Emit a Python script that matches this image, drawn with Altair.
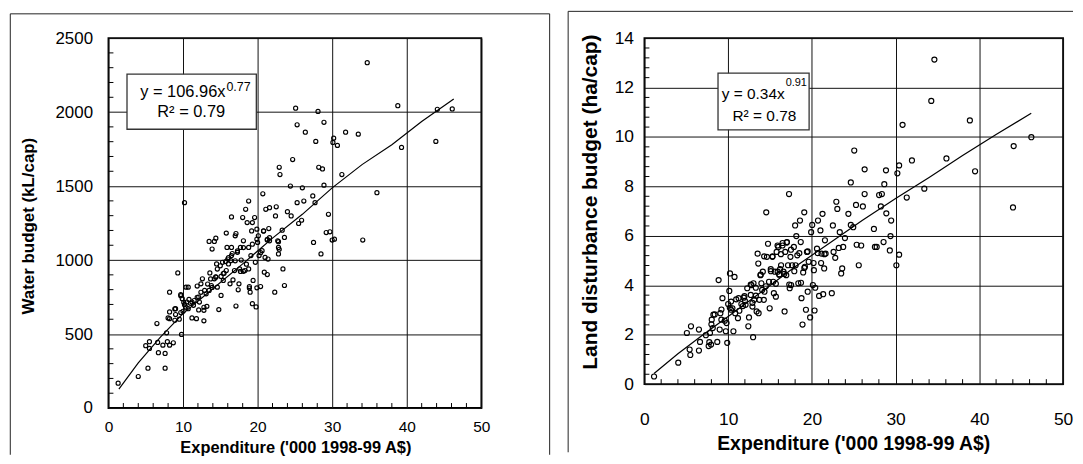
import altair as alt
import pandas as pd

# ---------------- data ----------------
water_x = [1.3, 4.0, 5.3, 7.6, 5.0, 5.5, 5.5, 6.5, 6.6, 6.7, 7.3, 7.6, 7.8, 7.9, 8.2, 8.7, 8.2, 8.0, 8.2, 8.2,
           8.9, 9.0, 9.3, 9.5, 9.7, 9.8, 9.7, 9.9, 10.2, 10.0, 10.2, 10.4, 10.7, 10.5, 10.7, 10.8, 11.2, 11.4, 11.2, 11.8,
           11.9, 12.1, 12.2, 12.4, 12.6, 12.8, 12.8, 12.9, 13.1, 13.2, 13.5, 13.5, 13.6, 13.8, 13.9, 14.2, 14.4, 14.2, 14.4, 14.5,
           14.6, 14.8, 15.1, 15.1, 15.3, 15.4, 15.5, 15.8, 15.8, 15.9, 16.0, 16.1, 16.3, 16.4, 16.5, 16.5, 16.5, 16.7, 16.9, 17.0,
           17.1, 17.1, 17.3, 17.4, 17.5, 17.6, 17.7, 17.8, 18.0, 18.1, 18.1, 18.3, 18.4, 18.6, 18.8, 18.8, 18.8, 18.9, 19.0, 19.1,
           19.2, 19.3, 19.3, 19.4, 19.6, 19.7, 19.8, 19.9, 19.9, 20.0, 20.1, 20.2, 20.4, 20.6, 20.7, 20.8, 20.9, 21.0, 21.1, 21.3,
           21.3, 21.4, 21.5, 21.6, 21.6, 22.3, 22.4, 22.5, 22.7, 22.8, 22.8, 22.9, 23.0, 23.3, 23.4, 23.6, 23.6, 24.0, 24.4, 24.5,
           24.7, 25.1, 25.3, 25.3, 25.5, 25.9, 26.0, 26.2, 26.4, 27.4, 27.5, 27.7, 27.8, 28.1, 28.2, 28.5, 28.7, 28.9, 28.9, 29.2,
           29.5, 29.7, 30.0, 30.2, 30.3, 30.1, 30.7, 31.3, 31.8, 33.5, 34.1, 34.7, 36.0, 38.8, 39.3, 43.9, 44.1, 46.1,
           8.9, 9.0, 9.7, 10.1, 10.4, 11.0, 11.5, 11.9, 12.4, 12.1, 12.8, 13.3, 13.7, 13.9, 14.4, 14.6, 15.0, 15.4, 15.7, 16.1,
           16.6, 17.0, 17.3, 17.7, 18.1, 18.5, 18.9, 19.3, 19.9, 20.4, 20.8, 21.3, 21.6, 22.8, 22.9]
water_y = [168, 213, 269, 269, 421, 448, 403, 571, 443, 374, 425, 369, 508, 448, 425, 441, 783, 609, 649, 604,
           593, 671, 913, 600, 767, 497, 645, 739, 1388, 654, 698, 817, 817, 716, 671, 734, 609, 694, 716, 604,
           824, 750, 716, 839, 873, 589, 660, 795, 772, 687, 795, 1126, 913, 828, 1074, 1126, 1148, 873, 884, 974,
           817, 665, 761, 889, 985, 862, 911, 929, 1182, 1085, 1007, 974, 839, 996, 1085, 1291, 1030, 866, 929, 1164,
           1179, 689, 1052, 799, 839, 940, 1085, 1000, 1287, 924, 1130, 929, 1343, 1253, 1399, 1085, 940, 821, 783, 1030,
           1197, 1253, 705, 862, 1287, 985, 683, 1209, 812, 1119, 1164, 1030, 821, 1063, 1448, 1197, 918, 1018, 1343, 1135,
           902, 1007, 1213, 1130, 1354, 783, 1298, 1360, 1130, 1085, 1041, 1627, 1578, 1202, 940, 828, 1153, 1327, 1500, 1298,
           1679, 2026, 1914, 1388, 1247, 1269, 1488, 1399, 1864, 1433, 1119, 1388, 1802, 2004, 1627, 1041, 1616, 1506, 1931, 1186,
           1309, 1191, 1135, 1824, 1141, 1795, 1775, 1578, 1864, 1851, 1135, 2334, 1455, 2043, 1761, 1802, 2019, 2021,
           670, 632, 759, 714, 681, 708, 726, 748, 782, 663, 681, 838, 872, 815, 887, 939, 961, 909, 990, 1017,
           1044, 995, 1062, 923, 1084, 972, 811, 1107, 1140, 1050, 1196, 1140, 1151, 1124, 1073]
water_fit_x = [1.4, 4, 7, 10, 14, 18, 22, 26, 30, 34, 38, 42, 46.3]
water_fit_y = [128, 305, 481, 638, 806, 974, 1148, 1309, 1488, 1645, 1779, 1936, 2088]

land_x = [1.15, 4.04, 5.07, 5.40, 5.56, 5.48, 6.51, 6.51, 6.64, 7.34, 7.67, 7.75, 7.83, 8.04, 8.16, 8.24, 7.96, 8.70, 8.86, 8.99,
          9.07, 9.19, 9.32, 9.60, 9.72, 9.81, 9.89, 10.0, 10.14, 10.22, 10.35, 10.35, 10.51, 10.63, 10.76, 10.84, 11.17, 11.25, 11.34, 11.58,
          11.87, 12.0, 12.08, 12.28, 12.41, 12.49, 12.70, 12.78, 12.90, 12.98, 13.03, 13.11, 13.31, 13.40, 13.52, 13.60, 13.64, 13.73, 13.85, 13.97,
          14.06, 14.14, 14.26, 14.34, 14.55, 14.63, 14.76, 14.88, 14.96, 15.09, 15.29, 15.38, 15.46, 15.58, 15.70, 15.79, 15.91, 15.99, 16.12, 16.20,
          16.32, 16.49, 16.61, 16.74, 16.82, 16.94, 17.02, 17.15, 17.27, 17.35, 17.44, 17.52, 17.64, 17.85, 18.0, 18.06, 18.14, 18.26, 18.38, 18.58,
          18.67, 18.76, 18.88, 18.96, 19.09, 19.17, 19.29, 19.41, 19.50, 19.62, 19.79, 19.91, 20.04, 20.12, 20.24, 20.32, 20.40, 20.61, 20.73, 20.86,
          21.02, 21.15, 21.27, 21.35, 21.47, 21.56, 21.64, 22.38, 22.51, 22.59, 22.79, 22.92, 23.04, 23.21, 23.33, 23.50, 23.62, 23.74, 23.95, 24.36,
          24.65, 24.65, 24.94, 25.06, 25.27, 25.35, 25.60, 25.89, 26.09, 26.30, 26.30, 27.41, 27.53, 27.74, 28.03, 28.36, 28.24, 28.56, 28.65, 28.85,
          28.89, 29.31, 29.47, 29.39, 30.09, 30.21, 30.42, 30.42, 30.83, 31.33, 31.95, 33.43, 34.26, 34.63, 36.07, 38.87, 39.49, 44.02, 44.10, 46.21,
          15.9, 16.5, 17.0, 14.3, 15.3, 16.3, 17.5, 18.5, 19.5, 20.7, 21.5, 13.9, 15.1, 16.1, 16.7, 17.9, 19.1, 20.2, 21.1, 12.7,
          13.3, 14.5, 15.7, 17.3, 18.7, 11.95, 10.96, 10.2, 9.2, 11.76, 12.9, 8.4, 8.0]
land_y = [0.31, 0.87, 2.07, 1.40, 2.34, 1.18, 2.21, 1.36, 1.71, 1.98, 1.54, 1.70, 2.07, 2.61, 2.27, 2.81, 1.60, 1.71, 4.21, 2.21,
          2.87, 2.61, 3.48, 2.57, 2.14, 2.47, 1.67, 3.24, 3.77, 4.48, 3.01, 3.34, 3.07, 2.14, 4.34, 2.87, 2.67, 3.48, 2.97, 3.24,
          3.50, 3.37, 3.21, 3.88, 2.34, 2.70, 3.61, 4.01, 3.14, 1.90, 4.08, 3.41, 3.58, 2.94, 5.28, 4.88, 2.87, 3.41, 4.41, 4.08,
          3.81, 4.55, 3.41, 3.74, 6.95, 5.15, 5.68, 4.14, 3.07, 4.65, 5.15, 4.14, 3.68, 4.55, 3.54, 5.35, 4.55, 5.55, 4.44, 4.65,
          4.81, 5.61, 4.55, 2.94, 5.35, 4.41, 5.75, 4.81, 7.69, 3.88, 5.15, 4.01, 4.81, 5.55, 6.42, 4.81, 5.99, 5.21, 4.08, 6.62,
          5.75, 3.48, 2.41, 4.52, 6.95, 4.75, 3.01, 5.35, 3.74, 4.95, 2.70, 6.15, 6.44, 4.01, 4.61, 2.98, 3.90, 5.48, 6.62, 3.57,
          6.22, 5.28, 6.89, 3.64, 4.68, 5.82, 5.28, 3.68, 6.42, 5.35, 5.11, 7.38, 7.09, 5.51, 6.15, 4.48, 4.68, 5.55, 5.91, 6.89,
          6.44, 8.16, 6.35, 9.45, 7.25, 5.64, 4.81, 5.61, 7.19, 7.69, 8.69, 6.28, 5.55, 5.55, 7.65, 7.69, 7.19, 5.75, 8.09, 8.65,
          6.91, 5.41, 6.62, 5.99, 4.81, 8.53, 8.85, 5.24, 10.49, 7.55, 9.05, 7.91, 11.46, 13.13, 9.13, 10.67, 8.61, 7.15, 9.63, 9.99,
          5.61, 5.71, 5.73, 5.17, 5.17, 5.26, 5.44, 5.30, 5.37, 5.30, 5.26, 4.43, 4.57, 4.43, 4.46, 4.57, 4.70, 4.90, 4.90, 4.03,
          3.90, 3.96, 4.06, 4.03, 4.10, 3.56, 3.43, 3.09, 3.02, 3.16, 3.29, 2.82, 2.42]
land_fit_x = [1.15, 4, 7, 10, 14, 18, 22, 26, 30, 34, 38, 42, 46.2]
land_fit_y = [0.43, 1.23, 2.0, 2.74, 3.74, 4.75, 5.68, 6.62, 7.51, 8.36, 9.25, 10.1, 10.96]

x_ticks = [0, 10, 20, 30, 40, 50]
water_y_ticks = [0, 500, 1000, 1500, 2000, 2500]
land_y_ticks = [0, 2, 4, 6, 8, 10, 12, 14]
minor_x = [v for v in range(2, 50, 2) if v % 10]
water_minor_y = [v for v in range(100, 2500, 100) if v % 500]
land_minor_y = [round(0.4 * i, 1) for i in range(1, 35) if i % 5]

x_title = "Expenditure ('000 1998-99 A$)"
water_title = "Water budget (kL/cap)"
land_title = "Land disturbance budget (ha/cap)"

water_eq = "y = 106.96x"
water_exp = "0.77"
water_r2 = "R\u00b2 = 0.79"
land_eq = "y = 0.34x"
land_exp = "0.91"
land_r2 = "R\u00b2 = 0.78"

FONT = "Liberation Sans"


def panel(px, py, fx, fy, ydom, yticks, ytitle, minor_y, W, H, ax, ay, ann, border):
    xs = alt.Scale(domain=[0, 50], nice=False, zero=False)
    ys = alt.Scale(domain=ydom, nice=False, zero=False)
    xaxis = alt.Axis(values=x_ticks, title=x_title, format="d", ticks=False, tickSize=0, domain=False, grid=True,
                     gridColor="#111", gridWidth=1, labelFontSize=ax["lfs"], labelPadding=ax["lp"],
                     labelFlush=False, labelOverlap=False, labelColor="black", labelFont=FONT,
                     titleFontSize=ax["tfs"], titleFontWeight="bold", titleColor="black", titleFont=FONT,
                     titleX=ax["tx"], titleY=ax["ty"], titleBaseline="middle", titleAlign="center")
    yaxis = alt.Axis(values=yticks, title=ytitle, format="d", ticks=False, tickSize=0, domain=False, grid=True,
                     gridColor="#111", gridWidth=1, labelFontSize=ay["lfs"], labelPadding=ay["lp"],
                     labelFlush=False, labelOverlap=False, labelColor="black", labelFont=FONT,
                     titleFontSize=ay["tfs"], titleFontWeight="bold", titleColor="black", titleFont=FONT,
                     titleX=ay["tx"], titleY=ay["ty"], titleBaseline="middle", titleAlign="center",
                     titleAngle=270)

    pts = alt.Chart(pd.DataFrame({"x": px, "y": py})).mark_point(
        shape="circle", filled=False, color="black", opacity=1, size=ann["ps"], strokeWidth=1.15
    ).encode(x=alt.X("x:Q", scale=xs, axis=xaxis), y=alt.Y("y:Q", scale=ys, axis=yaxis))

    fit = alt.Chart(pd.DataFrame({"x": fx, "y": fy})).mark_line(color="black", strokeWidth=1.2).encode(
        x=alt.X("x:Q", scale=xs), y=alt.Y("y:Q", scale=ys))

    mx = alt.Chart(pd.DataFrame({"x": minor_x})).mark_rule(color="black", strokeWidth=1).encode(
        x=alt.X("x:Q", scale=xs), y=alt.value(H), y2=alt.value(H - 5))
    my = alt.Chart(pd.DataFrame({"y": minor_y})).mark_rule(color="black", strokeWidth=1).encode(
        y=alt.Y("y:Q", scale=ys), x=alt.value(0), x2=alt.value(5))

    box = alt.Chart(pd.DataFrame({"x": [ann["bx"][0]], "x2": [ann["bx"][1]],
                                  "y": [ann["by"][0]], "y2": [ann["by"][1]]})).mark_rect(
        fill="white", stroke="#333", strokeWidth=1.3).encode(
        x=alt.X("x:Q", scale=xs), x2="x2:Q", y=alt.Y("y:Q", scale=ys), y2="y2:Q")

    eq = alt.Chart(pd.DataFrame({"x": [ann["anchor"]], "y": [ann["y1"]], "t": [ann["eq"]]})).mark_text(
        align="right", baseline="middle", fontSize=ann["fs1"], font=FONT, color="black").encode(
        x=alt.X("x:Q", scale=xs), y=alt.Y("y:Q", scale=ys), text="t:N")
    ex = alt.Chart(pd.DataFrame({"x": [ann["anchor"]], "y": [ann["ysup"]], "t": [ann["exp"]]})).mark_text(
        align="left", baseline="middle", fontSize=ann["fs2"], font=FONT, color="black", dx=1).encode(
        x=alt.X("x:Q", scale=xs), y=alt.Y("y:Q", scale=ys), text="t:N")
    r2 = alt.Chart(pd.DataFrame({"x": [ann["x2c"]], "y": [ann["y2"]], "t": [ann["r2"]]})).mark_text(
        align="center", baseline="middle", fontSize=ann["fs1"], font=FONT, color="black").encode(
        x=alt.X("x:Q", scale=xs), y=alt.Y("y:Q", scale=ys), text="t:N")

    one = pd.DataFrame({"k": [0]})
    bl, bt, br, bb = border
    b_left = alt.Chart(one).mark_rule(color="#222", strokeWidth=1).encode(
        x=alt.value(bl), y=alt.value(bt), y2=alt.value(bb))
    b_top = alt.Chart(one).mark_rule(color="#222", strokeWidth=1).encode(
        y=alt.value(bt), x=alt.value(bl), x2=alt.value(br))
    layers = [pts, fit, mx, my, box, eq, ex, r2, b_left, b_top]
    if ann["right_side"]:
        b_right = alt.Chart(one).mark_rule(color="#222", strokeWidth=1).encode(
            x=alt.value(br), y=alt.value(bt), y2=alt.value(bb))
        layers.append(b_right)
    return alt.layer(*layers).properties(width=W, height=H)


left = panel(
    water_x, water_y, water_fit_x, water_fit_y, [0, 2500], water_y_ticks, water_title, water_minor_y,
    375, 372,
    ax={"lfs": 15.5, "lp": 12, "tfs": 16.5, "tx": 188, "ty": 40},
    ay={"lfs": 17, "lp": 16, "tfs": 17, "tx": -80, "ty": 188.6},
    ann={"ps": 17, "bx": [2.49, 19.83], "by": [1884, 2256], "anchor": 15.69, "y1": 2137, "ysup": 2171,
         "x2c": 11.1, "y2": 2003, "eq": water_eq, "exp": water_exp, "r2": water_r2, "fs1": 16.5, "fs2": 12.5,
         "right_side": True},
    border=(-98.7, -24.4, 443.7, 419),
)

right = panel(
    land_x, land_y, land_fit_x, land_fit_y, [0, 14], land_y_ticks, land_title, land_minor_y,
    421, 348,
    ax={"lfs": 17.5, "lp": 26.5, "tfs": 19.5, "tx": 210, "ty": 59.5},
    ay={"lfs": 17.5, "lp": 11, "tfs": 21, "tx": -54.2, "ty": 164.4},
    ann={"ps": 26, "bx": [8.79, 19.67], "by": [10.29, 12.58], "anchor": 16.75, "y1": 11.74, "ysup": 12.17,
         "x2c": 14.33, "y2": 10.83, "eq": land_eq, "exp": land_exp, "r2": land_r2, "fs1": 15.5, "fs2": 11,
         "right_side": False},
    border=(-76.7, -26.9, 431, 416.5),
)

chart = alt.hconcat(left, right, spacing=14).properties(
    padding={"left": 0, "top": 0, "right": 0, "bottom": 0}
).configure(font=FONT).configure_view(stroke="black", strokeWidth=1.8)

chart.save("out.html", embed_options={"renderer": "svg", "actions": False})
